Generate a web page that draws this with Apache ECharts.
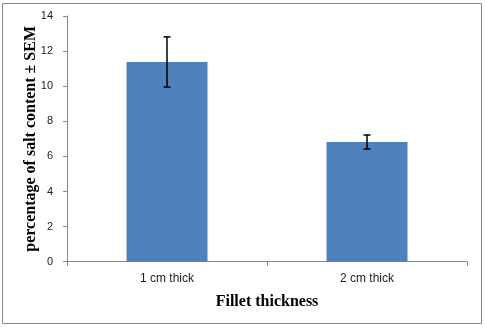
<!DOCTYPE html>
<html><head><meta charset="utf-8">
<script src="https://cdn.jsdelivr.net/npm/echarts@6/dist/echarts.min.js"></script>
<style>html,body{margin:0;padding:0;background:#fff}#c{width:485px;height:328px}</style>
</head><body><div id="c"></div>
<script>
const categories = ['1 cm thick', '2 cm thick'];
const meanValues = [11.38, 6.82];
const semValues = [1.43, 0.40];
const yTicks = [0, 2, 4, 6, 8, 10, 12, 14];

const chart = echarts.init(document.getElementById('c'), null, {renderer: 'canvas'});
const errData = categories.map((c, i) => [i, meanValues[i] - semValues[i], meanValues[i] + semValues[i]]);
chart.setOption({
  animation: false,
  graphic: [{type: 'rect', shape: {x: 2.5, y: 3.5, width: 479, height: 320}, style: {fill: 'none', stroke: '#888', lineWidth: 1}}],
  grid: {left: 67, right: 18, top: 16, bottom: 66.3},
  xAxis: {
    type: 'category', data: categories,
    axisLine: {lineStyle: {color: '#888'}},
    axisTick: {show: true, length: 4, lineStyle: {color: '#888'}},
    axisLabel: {color: '#222', fontFamily: 'Liberation Sans', fontSize: 12, margin: 11},
    name: 'Fillet thickness', nameLocation: 'middle', nameGap: 32, nameMoveOverlap: false,
    nameTextStyle: {fontFamily: 'Liberation Serif', fontWeight: 'bold', fontSize: 16, color: '#000'}
  },
  yAxis: {
    type: 'value', min: 0, max: 14, interval: 2,
    axisLine: {show: true, lineStyle: {color: '#888'}},
    axisTick: {show: true, length: 4, lineStyle: {color: '#888'}},
    splitLine: {show: false},
    axisLabel: {color: '#222', fontFamily: 'Liberation Sans', fontSize: 11, margin: 14,
      formatter: v => yTicks.includes(v) ? String(v) : ''},
    name: 'percentage of salt content \u00b1 SEM', nameLocation: 'middle', nameGap: 28, nameMoveOverlap: false,
    nameTextStyle: {fontFamily: 'Liberation Serif', fontWeight: 'bold', fontSize: 16, color: '#000'}
  },
  series: [
    {type: 'bar', data: meanValues, barWidth: 81, itemStyle: {color: '#4F81BD'}},
    {type: 'custom', data: errData, z: 10,
      renderItem: function (params, api) {
        const x = api.value(0);
        const lo = api.coord([x, api.value(1)]);
        const hi = api.coord([x, api.value(2)]);
        const hw = 3.5;
        const st = {stroke: '#000', lineWidth: 1.5};
        return {type: 'group', children: [
          {type: 'line', shape: {x1: hi[0], y1: hi[1], x2: lo[0], y2: lo[1]}, style: st},
          {type: 'line', shape: {x1: hi[0]-hw, y1: hi[1], x2: hi[0]+hw, y2: hi[1]}, style: st},
          {type: 'line', shape: {x1: lo[0]-hw, y1: lo[1], x2: lo[0]+hw, y2: lo[1]}, style: st}
        ]};
      }}
  ]
});
</script></body></html>
